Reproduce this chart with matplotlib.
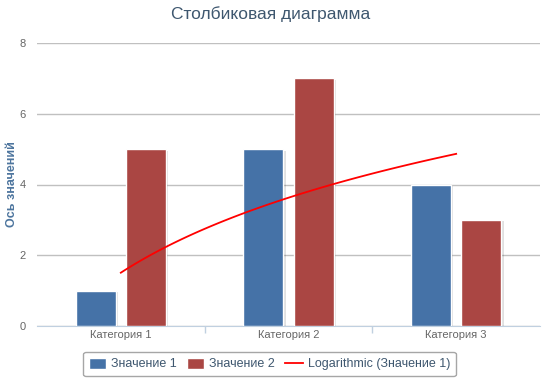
import numpy as np
import matplotlib
matplotlib.use("Agg")
import matplotlib.pyplot as plt
import matplotlib.patheffects as pe
from matplotlib.lines import Line2D
from matplotlib.patches import Patch

plt.rcParams['font.family'] = ['Liberation Sans', 'DejaVu Sans']

categories = ["Категория 1", "Категория 2", "Категория 3"]
series1_name = "Значение 1"
series2_name = "Значение 2"
series1 = [1, 5, 4]
series2 = [5, 7, 3]
trend_name = "Logarithmic (Значение 1)"
yticks = [0, 2, 4, 6, 8]

fig = plt.figure(figsize=(5.42, 3.84), dpi=100)
ax = fig.add_axes([37/542, 1-326/384, 503/542, 283/384])

x = np.arange(len(categories))
w = 0.24
off = 0.15
shadow = [pe.SimplePatchShadow(offset=(1.5, -1), alpha=0.12, shadow_rgbFace='k'), pe.Normal()]
b1 = ax.bar(x - off, series1, w, color='#4572A7', edgecolor='white', linewidth=1, zorder=3)
b2 = ax.bar(x + off, series2, w, color='#AA4643', edgecolor='white', linewidth=1, zorder=3)
for b in list(b1) + list(b2):
    b.set_path_effects(shadow)

# logarithmic trendline fitted to series 1
xv = np.arange(1, len(series1) + 1)
bcoef, acoef = np.polyfit(np.log(xv), series1, 1)
xs = np.linspace(1, len(series1), 100)
ys = acoef + bcoef * np.log(xs)
ax.plot(xs - 1, ys, color='#FF0000', lw=1.3, zorder=4)

ax.set_xlim(-0.5, 2.5)
ax.set_ylim(0, 8)
ax.set_yticks(yticks)
ax.set_yticklabels([str(t) for t in yticks], color='#666666', fontsize=8)
ax.yaxis.grid(True, color='#C0C0C0', lw=1)
ax.set_axisbelow(True)
ax.tick_params(axis='y', length=0, pad=8)
ax.set_xticks(x)
ax.set_xticklabels(categories, color='#666666', fontsize=8)
ax.tick_params(axis='x', length=0, pad=3)
ax.set_xticks([0.5, 1.5], minor=True)
ax.tick_params(axis='x', which='minor', length=5, color='#C0D0E0', width=1)
for s in ['top', 'right', 'left']:
    ax.spines[s].set_visible(False)
ax.spines['bottom'].set_color('#C0D0E0')
ax.set_ylabel("Ось значений", color='#4D759E', fontsize=9, fontweight='bold')
ax.yaxis.set_label_coords((18-37)/503, 0.5)

fig.text(0.5, 1-14/384, "Столбиковая диаграмма", ha='center', va='center', fontsize=12.5, color='#3E576F')

handles = [Patch(facecolor='#4572A7', edgecolor='white'),
           Patch(facecolor='#AA4643', edgecolor='white'),
           Line2D([0], [0], color='#FF0000', lw=1.3)]
leg = fig.legend(handles, [series1_name, series2_name, trend_name], loc='center',
                 bbox_to_anchor=(0.497, 1-364/384), ncol=3, frameon=True, fontsize=9,
                 handlelength=1.4, handleheight=1.0, handletextpad=0.4, columnspacing=0.8,
                 fancybox=True, borderpad=0.45)
leg.get_frame().set_edgecolor('#909090')
leg.get_frame().set_linewidth(1)
for t in leg.get_texts():
    t.set_color('#3E576F')

fig.savefig("out.png", dpi=100)
